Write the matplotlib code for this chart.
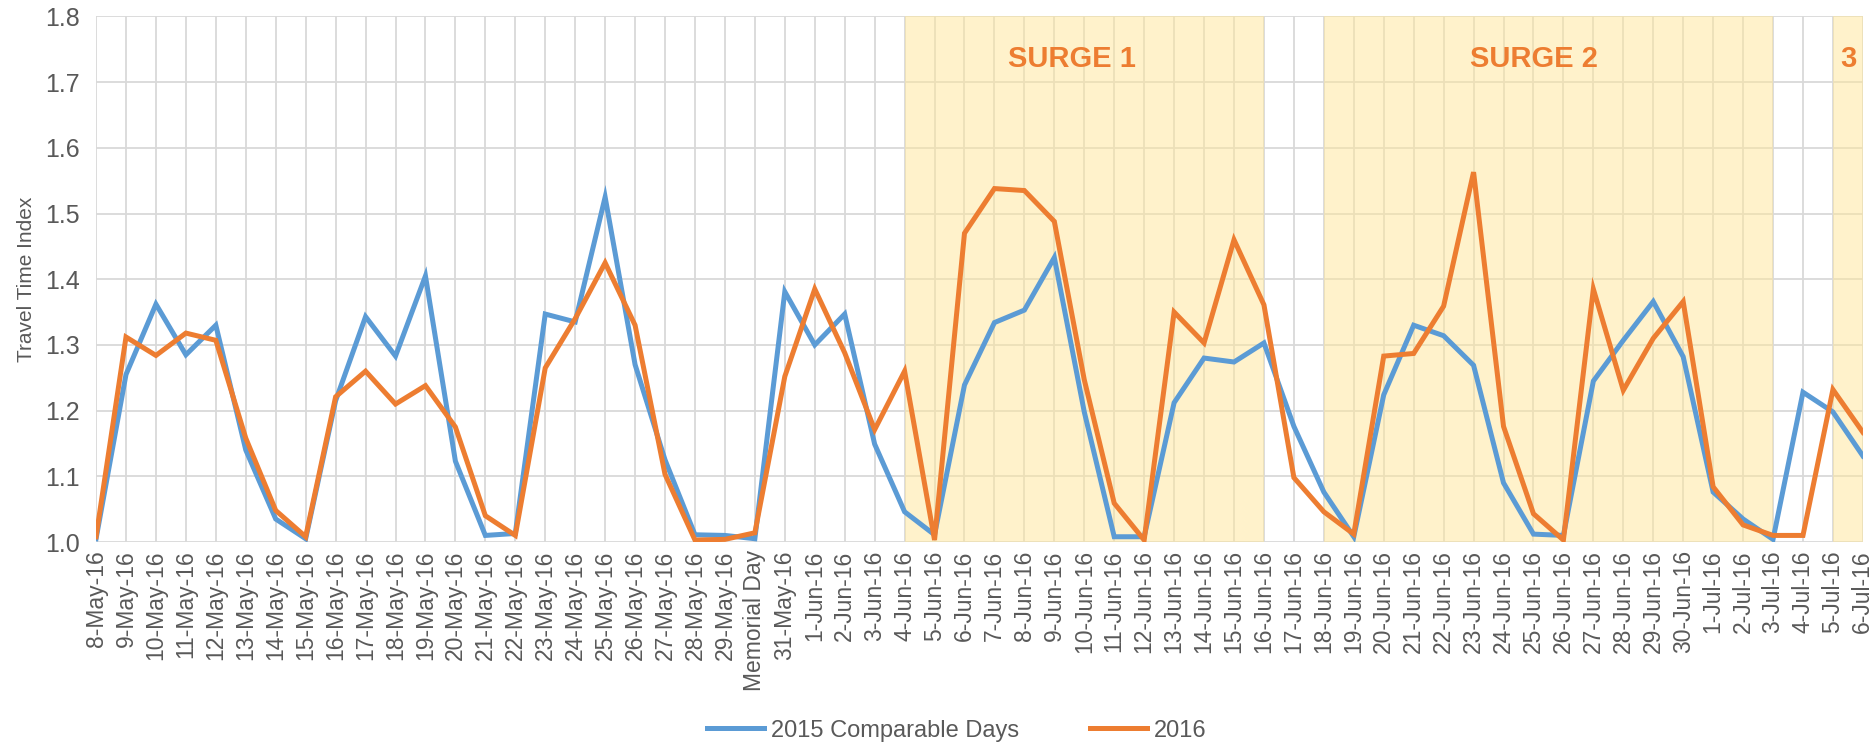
import numpy as np
import matplotlib
matplotlib.use('Agg')
from matplotlib import pyplot as plt

days = ['8-May-16', '9-May-16', '10-May-16', '11-May-16', '12-May-16', '13-May-16',
        '14-May-16', '15-May-16', '16-May-16', '17-May-16', '18-May-16', '19-May-16',
        '20-May-16', '21-May-16', '22-May-16', '23-May-16', '24-May-16', '25-May-16',
        '26-May-16', '27-May-16', '28-May-16', '29-May-16', 'Memorial Day', '31-May-16',
        '1-Jun-16', '2-Jun-16', '3-Jun-16', '4-Jun-16', '5-Jun-16', '6-Jun-16',
        '7-Jun-16', '8-Jun-16', '9-Jun-16', '10-Jun-16', '11-Jun-16', '12-Jun-16',
        '13-Jun-16', '14-Jun-16', '15-Jun-16', '16-Jun-16', '17-Jun-16', '18-Jun-16',
        '19-Jun-16', '20-Jun-16', '21-Jun-16', '22-Jun-16', '23-Jun-16', '24-Jun-16',
        '25-Jun-16', '26-Jun-16', '27-Jun-16', '28-Jun-16', '29-Jun-16', '30-Jun-16',
        '1-Jul-16', '2-Jul-16', '3-Jul-16', '4-Jul-16', '5-Jul-16', '6-Jul-16']

tti_2015 = [1.005, 1.255, 1.362, 1.285, 1.330, 1.140, 1.035, 1.005, 1.215, 1.343,
            1.283, 1.405, 1.123, 1.010, 1.013, 1.347, 1.335, 1.525, 1.270, 1.125,
            1.011, 1.010, 1.005, 1.381, 1.300, 1.347, 1.149, 1.046, 1.011, 1.239,
            1.334, 1.353, 1.433, 1.198, 1.008, 1.008, 1.212, 1.280, 1.274, 1.303,
            1.176, 1.076, 1.008, 1.224, 1.330, 1.314, 1.269, 1.090, 1.012, 1.010,
            1.245, 1.307, 1.366, 1.282, 1.076, 1.035, 1.004, 1.228, 1.198, 1.131]

tti_2016 = [1.008, 1.312, 1.284, 1.318, 1.307, 1.158, 1.048, 1.008, 1.221, 1.260,
            1.210, 1.238, 1.175, 1.040, 1.010, 1.265, 1.340, 1.425, 1.330, 1.103,
            1.003, 1.004, 1.014, 1.252, 1.385, 1.288, 1.171, 1.260, 1.003, 1.470,
            1.538, 1.535, 1.488, 1.247, 1.059, 1.003, 1.350, 1.303, 1.460, 1.361,
            1.098, 1.046, 1.012, 1.283, 1.287, 1.359, 1.563, 1.176, 1.043, 1.003,
            1.385, 1.231, 1.310, 1.366, 1.084, 1.026, 1.010, 1.010, 1.232, 1.167]

# surge periods as (first day, last day, label, label x)
surges = [('4-Jun-16', '16-Jun-16', 'SURGE 1', 32.6),
          ('18-Jun-16', '3-Jul-16', 'SURGE 2', 48.0),
          ('5-Jul-16', '6-Jul-16', '3', 58.5)]

blue = '#5B9BD5'
orange = '#ED7D31'
grey_text = '#595959'
narrow = ['Liberation Sans Narrow', 'Liberation Sans', 'DejaVu Sans']

fig = plt.figure(figsize=(18.76, 7.48), dpi=100)
ax = fig.add_axes([0.0512, 0.2754, 0.9418, 0.7026])

x = np.arange(len(days))
for start, end, label, lx in surges:
  ax.axvspan(days.index(start), days.index(end), color='#FFE699', alpha=0.5,
             lw=0, zorder=1)
  ax.text(lx, 1.735, label, color=orange, fontsize=21, fontweight='bold',
          ha='center', va='center', family=narrow, zorder=4)

ax.plot(x, tti_2015, color=blue, lw=3.6, label='2015 Comparable Days', zorder=3,
        solid_joinstyle='miter')
ax.plot(x, tti_2016, color=orange, lw=3.6, label='2016', zorder=3,
        solid_joinstyle='miter')

ax.set_xlim(0, len(days) - 1)
ax.set_ylim(1.0, 1.8)
ax.set_yticks(np.arange(1.0, 1.81, 0.1))
ax.set_yticklabels(['%.1f' % v for v in np.arange(1.0, 1.81, 0.1)])
ax.set_xticks(x)
ax.set_xticklabels(days, rotation=90)
ax.set_axisbelow(True)
ax.grid(True, color='#D9D9D9', lw=1.3, zorder=0.5)
for s in ax.spines.values():
  s.set_visible(False)
ax.tick_params(axis='x', length=0, labelsize=16.5, labelcolor=grey_text, pad=6)
ax.tick_params(axis='y', length=0, labelsize=18, labelcolor=grey_text, pad=12)
for t in ax.get_yticklabels() + ax.get_xticklabels():
  t.set_family(['Liberation Sans', 'DejaVu Sans'])
ax.set_ylabel('Travel Time Index', fontsize=15, color=grey_text,
              family=['Liberation Sans', 'DejaVu Sans'], labelpad=6)

fig.legend(loc='lower center', bbox_to_anchor=(0.51, -0.02), ncol=2, frameon=False,
           prop={'family': narrow, 'size': 17},
           labelcolor=grey_text, handlelength=2.4, columnspacing=3, handletextpad=0.3)

fig.savefig('out.png', dpi=100)
